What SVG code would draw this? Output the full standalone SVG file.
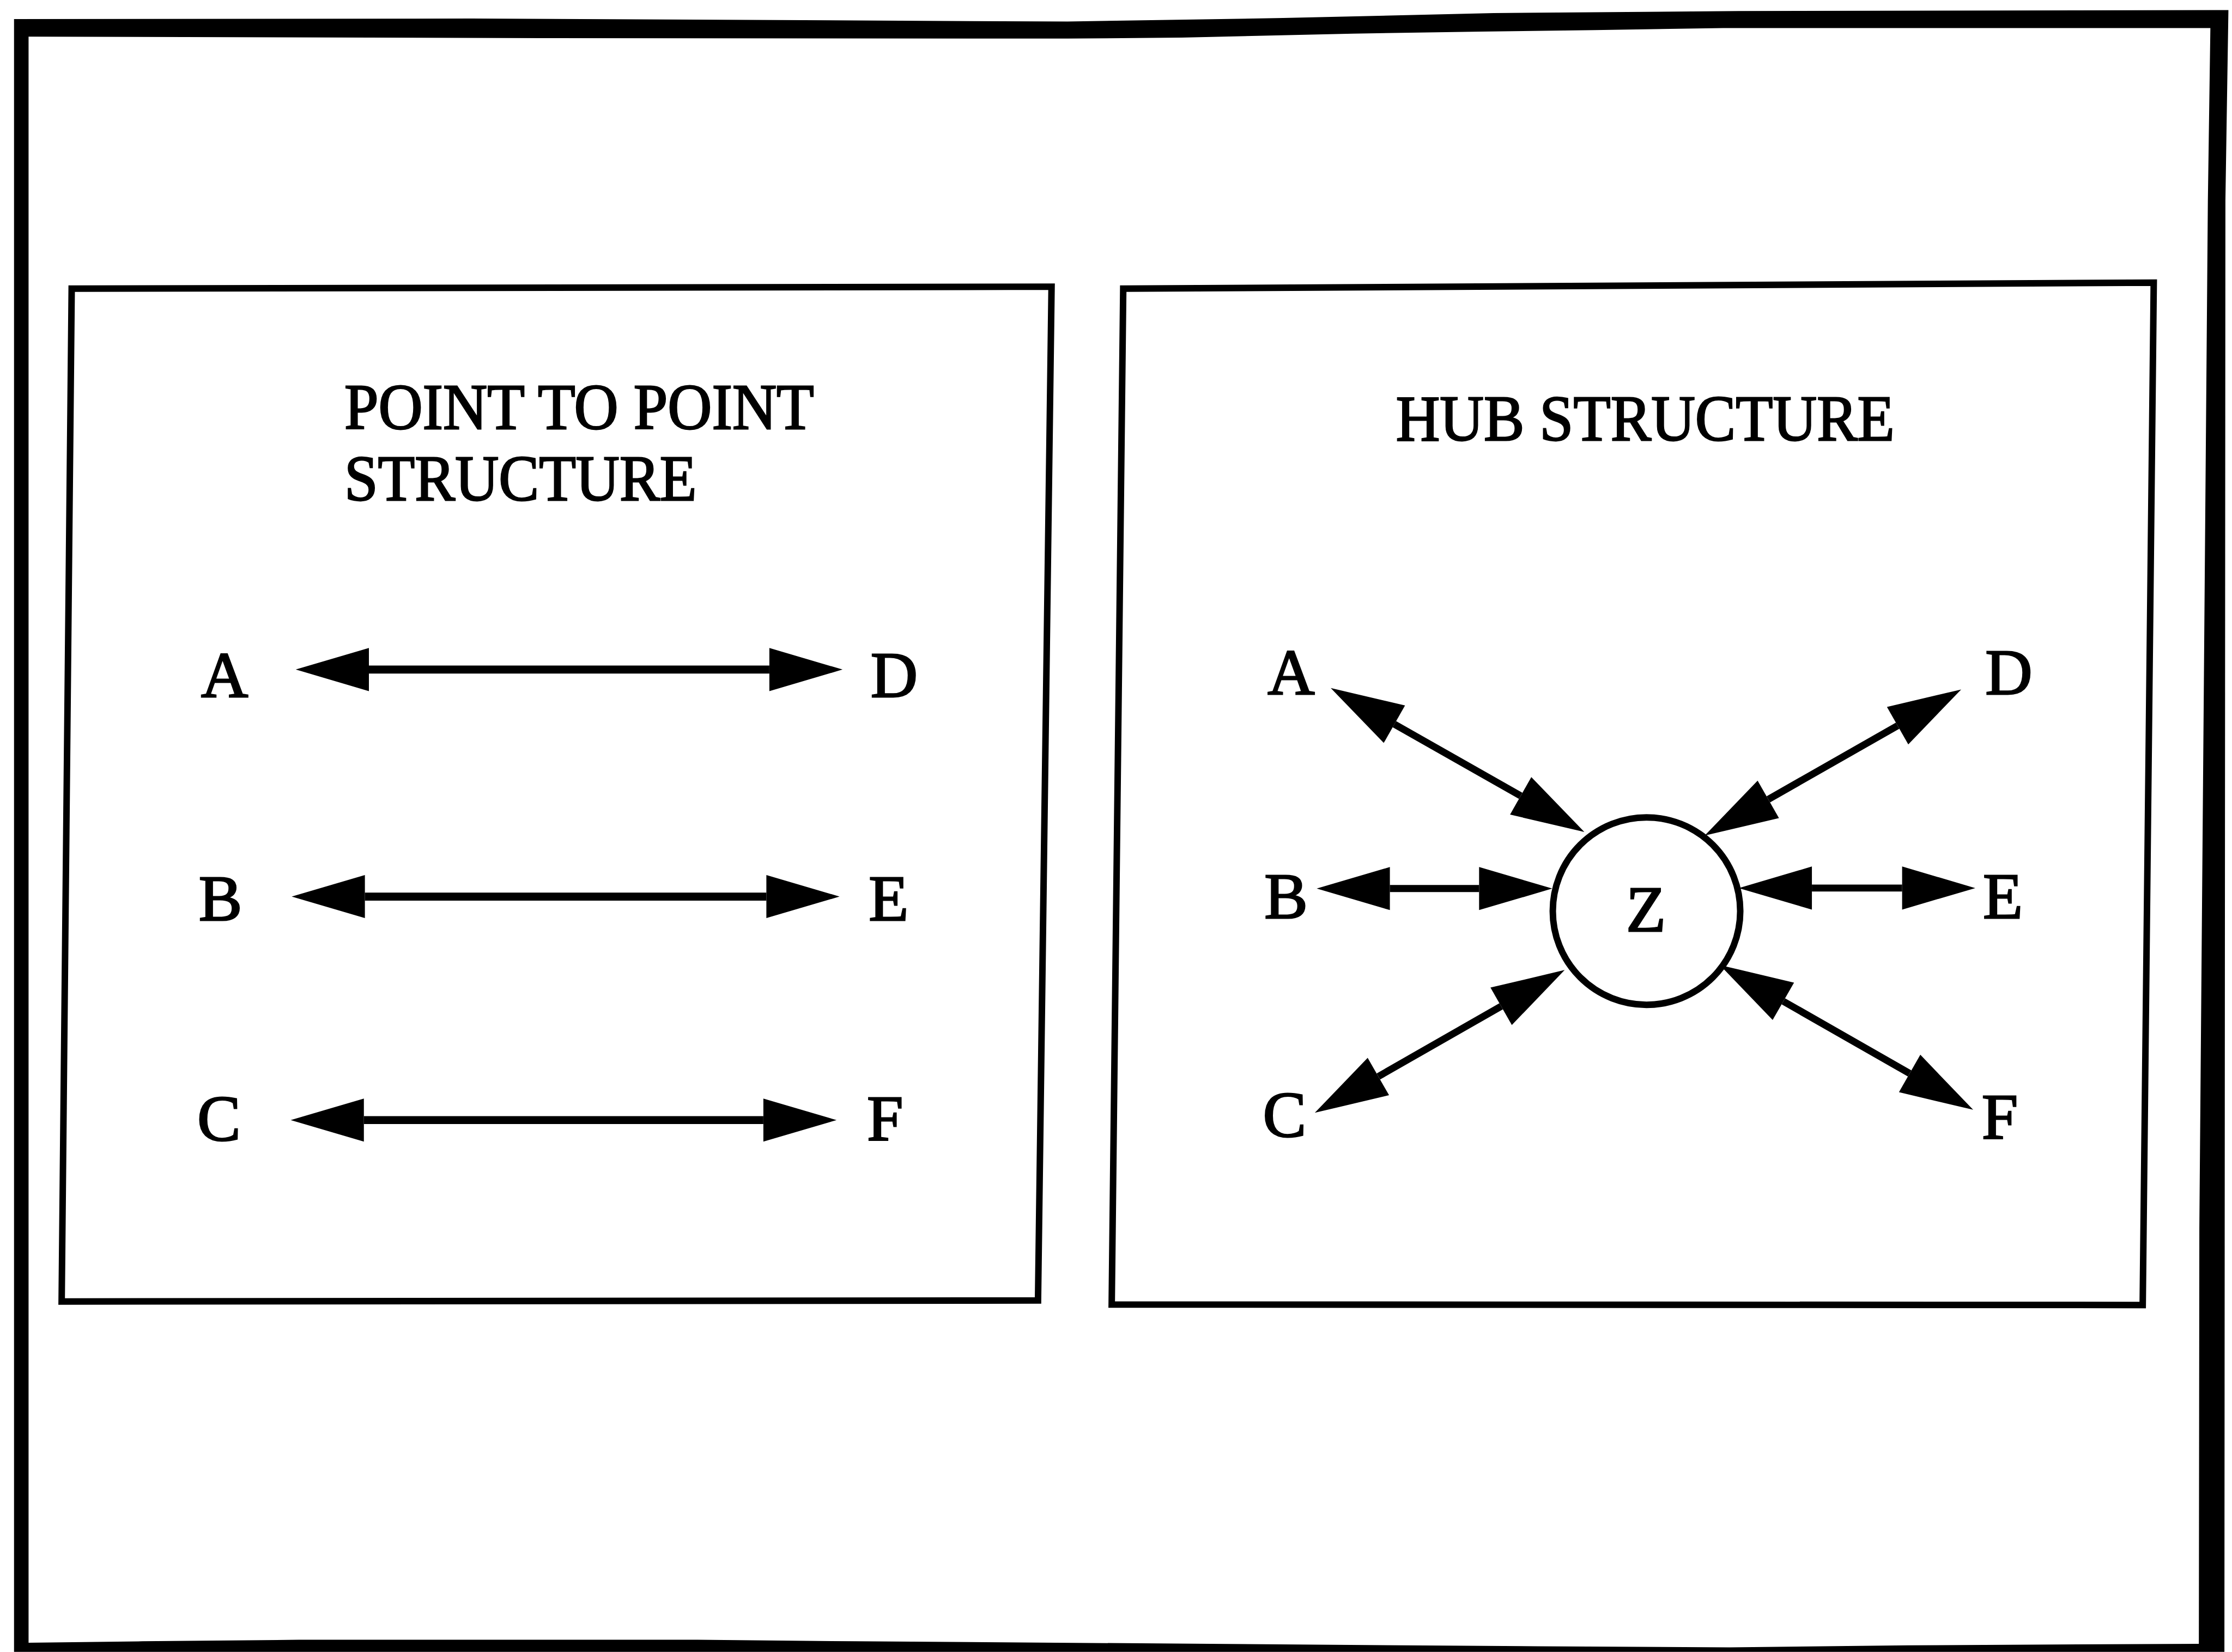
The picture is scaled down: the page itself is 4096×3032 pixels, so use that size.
<svg xmlns="http://www.w3.org/2000/svg" width="4096" height="3032" viewBox="0 0 4096 3032">
<style>
.t{font-family:"Liberation Serif","Times New Roman",serif;font-size:130px;fill:#000;stroke:#000;stroke-width:3}
.m{text-anchor:middle}
.box{fill:none;stroke:#000;stroke-width:13;stroke-linejoin:miter}
.ln{stroke:#000;stroke-width:16;fill:none}
.hl{stroke:#000;stroke-width:14;fill:none}
</style>
<defs>
<marker id="ah" markerUnits="userSpaceOnUse" viewBox="0 -46 150 92" markerWidth="150" markerHeight="92" refX="0" refY="0" orient="auto-start-reverse" overflow="visible">
<path d="M0,-43 L146,0 L0,43 Z" fill="#000"/>
</marker>
</defs>
<rect width="4096" height="3032" fill="#fff"/>
<g transform="scale(0.9198)">
<g id="frame">
<path fill="#000" fill-rule="evenodd" d="M28,38 L940,37 L2130,43 L2560,36 L2980,26 L3470,22 L4446,20 L4440,400 L4438,3296 L28,3296 Z M57,73 L1080,76 L2130,77 L2358,75 L2700,67 L2955,63 L3182,60 L3438,56 L4410,56 L4405,400 L4388,2450 L4387,3280 L3806,3283 L3451,3287 L3068,3285 L2414,3280 L1704,3275 L1392,3272 L596,3272 L284,3275 L57,3278 Z"/>
</g>
<g id="panel-point-to-point">
<polygon class="box" points="143,576 2098,572 2071,2595 123,2597"/>
<text class="t" x="687" y="856" textLength="937" lengthAdjust="spacingAndGlyphs">POINT TO POINT</text>
<text class="t" x="687" y="998" textLength="703" lengthAdjust="spacingAndGlyphs">STRUCTURE</text>
</g>
<g id="panel-hub">
<polygon class="box" points="2241,576 4297,564 4275,2604 2218,2603"/>
<text class="t" x="2785" y="879" textLength="995" lengthAdjust="spacingAndGlyphs">HUB STRUCTURE</text>
</g>
<g id="p2p-A"><text class="t m" x="448" y="1391">A</text></g>
<g id="p2p-D"><text class="t m" x="1784" y="1391">D</text></g>
<g id="p2p-B"><text class="t m" x="440" y="1836">B</text></g>
<g id="p2p-E"><text class="t m" x="1773" y="1836">E</text></g>
<g id="p2p-C"><text class="t m" x="437" y="2276">C</text></g>
<g id="p2p-F"><text class="t m" x="1766" y="2276">F</text></g>
<g id="hub-A"><text class="t m" x="2576" y="1385">A</text></g>
<g id="hub-D"><text class="t m" x="4008" y="1385">D</text></g>
<g id="hub-B"><text class="t m" x="2566" y="1832">B</text></g>
<g id="hub-E"><text class="t m" x="3996" y="1832">E</text></g>
<g id="hub-C"><text class="t m" x="2563" y="2268">C</text></g>
<g id="hub-F"><text class="t m" x="3990" y="2272">F</text></g>
<g id="hub-Z">
<circle cx="3285" cy="1818" r="187" fill="none" stroke="#000" stroke-width="13"/>
<text class="t m" x="3284" y="1858">Z</text>
</g>
<g id="connectors">
<line class="ln" x1="736" y1="1336" x2="1535" y2="1336" marker-start="url(#ah)" marker-end="url(#ah)"/>
<line class="ln" x1="728" y1="1789" x2="1529" y2="1789" marker-start="url(#ah)" marker-end="url(#ah)"/>
<line class="ln" x1="726" y1="2235" x2="1523" y2="2235" marker-start="url(#ah)" marker-end="url(#ah)"/>
<line class="hl" x1="2782" y1="1445" x2="3034" y2="1588" marker-start="url(#ah)" marker-end="url(#ah)"/>
<line class="hl" x1="3786" y1="1448" x2="3528" y2="1595" marker-start="url(#ah)" marker-end="url(#ah)"/>
<line class="hl" x1="2773" y1="1773" x2="2951" y2="1773" marker-start="url(#ah)" marker-end="url(#ah)"/>
<line class="hl" x1="3615" y1="1772" x2="3795" y2="1772" marker-start="url(#ah)" marker-end="url(#ah)"/>
<line class="hl" x1="2750" y1="2148" x2="2995" y2="2008" marker-start="url(#ah)" marker-end="url(#ah)"/>
<line class="hl" x1="3558" y1="1998" x2="3810" y2="2142" marker-start="url(#ah)" marker-end="url(#ah)"/>
</g>
</g>
</svg>
